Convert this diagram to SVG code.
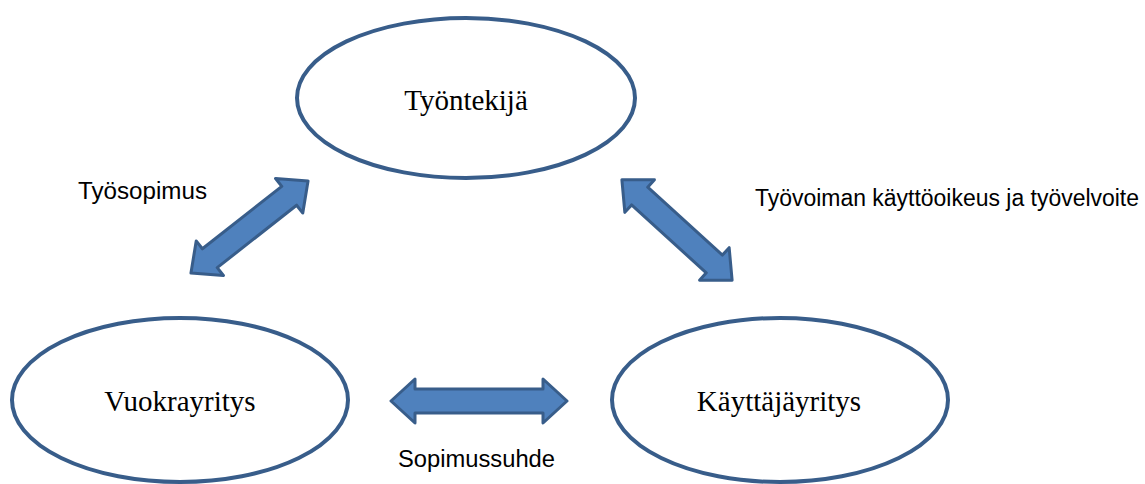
<svg xmlns="http://www.w3.org/2000/svg" width="1145" height="484" viewBox="0 0 1145 484">
<style>
.node{fill:#fff;stroke:#385D8A;stroke-width:4}
.nt{font-family:"Liberation Serif","Times New Roman",serif;font-size:29px;fill:#000;text-anchor:middle}
.lbl{font-family:"Liberation Sans",Arial,sans-serif;font-size:23px;fill:#000}
.arr{fill:#4F81BD;stroke:#385D8A;stroke-width:3;stroke-linejoin:round}
</style>
<rect width="1145" height="484" fill="#fff"/>
<g id="tyontekija">
<ellipse class="node" cx="466" cy="98" rx="169" ry="80"/>
<text class="nt" x="466" y="110">Työntekijä</text>
</g>
<g id="vuokrayritys">
<ellipse class="node" cx="180" cy="400" rx="168" ry="82"/>
<text class="nt" x="180" y="411">Vuokrayritys</text>
</g>
<g id="kayttajayritys">
<ellipse class="node" cx="780" cy="400" rx="168" ry="82"/>
<text class="nt" x="779" y="411">Käyttäjäyritys</text>
</g>
<g id="connectors">
<polygon class="arr" transform="translate(249.5,227) rotate(-38.2)" points="-74.5,0 -50.5,-22 -50.5,-12 50.5,-12 50.5,-22 74.5,0 50.5,22 50.5,12 -50.5,12 -50.5,22"/>
<polygon class="arr" transform="translate(677,230) rotate(42.3)" points="-74.5,0 -50.5,-22 -50.5,-12 50.5,-12 50.5,-22 74.5,0 50.5,22 50.5,12 -50.5,12 -50.5,22"/>
<polygon class="arr" transform="translate(479,401)" points="-88,0 -64,-22 -64,-12 64,-12 64,-22 88,0 64,22 64,12 -64,12 -64,22"/>
</g>
<g id="labels">
<text class="lbl" x="78" y="199" textLength="129" lengthAdjust="spacingAndGlyphs">Työsopimus</text>
<text class="lbl" x="755" y="206" textLength="384" lengthAdjust="spacingAndGlyphs">Työvoiman käyttöoikeus ja työvelvoite</text>
<text class="lbl" x="398" y="467" textLength="157" lengthAdjust="spacingAndGlyphs">Sopimussuhde</text>
</g>
</svg>
